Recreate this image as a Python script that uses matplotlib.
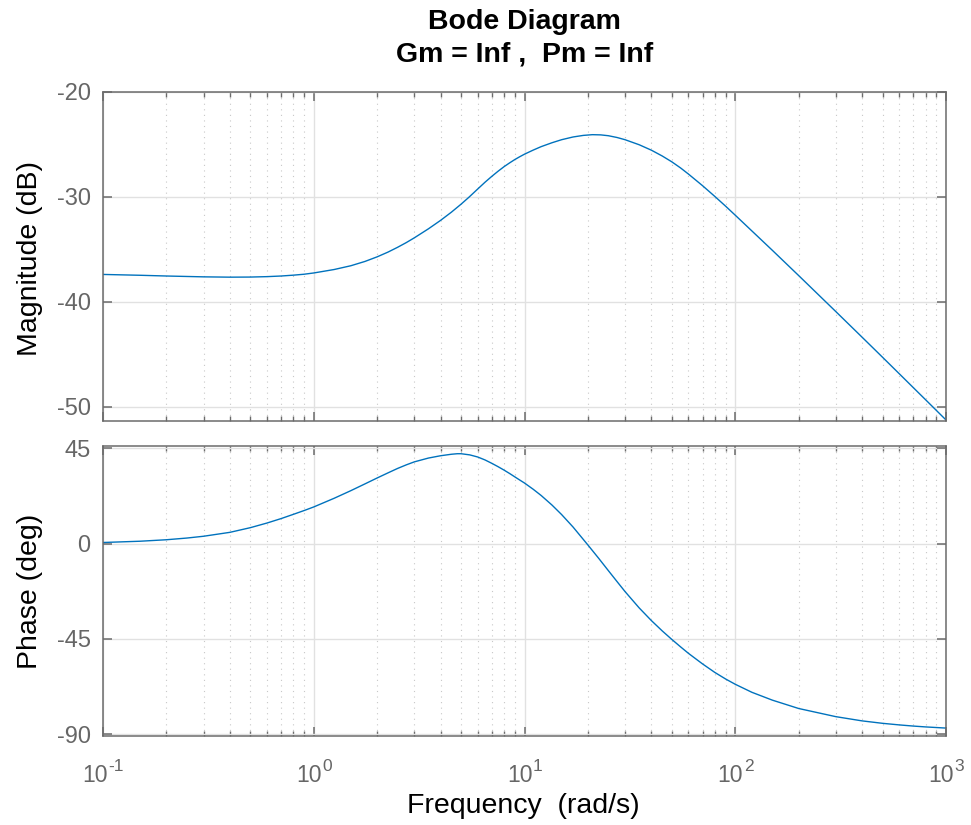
import matplotlib
matplotlib.use("Agg")
import matplotlib.pyplot as plt
from matplotlib.ticker import LogLocator, FixedLocator, NullFormatter

plt.rcParams['font.family'] = ['Liberation Sans', 'DejaVu Sans']
plt.rcParams['axes.unicode_minus'] = False

# ---- data ----
mag_freq = [0.1, 0.15, 0.2, 0.3, 0.4, 0.5, 0.6, 0.7, 0.8, 0.9, 1.0, 1.25, 1.5, 1.75, 2.0,
            2.25, 2.5, 2.75, 3.0, 3.5, 4.0, 4.5, 5.0, 5.44, 6.0, 6.5, 7.0, 7.5, 8.0, 8.5,
            9.0, 9.5, 10, 11, 12, 13.5, 15, 17, 19, 21, 23, 25, 27.5, 30, 35, 40, 45, 50,
            55, 60, 70, 80, 90, 100, 150, 200, 300, 400, 500, 600, 700, 800, 1000]
mag_db = [-37.40, -37.48, -37.55, -37.63, -37.66, -37.65, -37.61, -37.55, -37.47, -37.38,
          -37.26, -36.93, -36.57, -36.16, -35.72, -35.27, -34.81, -34.36, -33.91, -33.05,
          -32.24, -31.46, -30.70, -30.05, -29.25, -28.60, -28.04, -27.55, -27.12, -26.76,
          -26.44, -26.17, -25.93, -25.54, -25.21, -24.84, -24.55, -24.29, -24.14, -24.07,
          -24.09, -24.17, -24.34, -24.55, -25.03, -25.55, -26.10, -26.66, -27.24, -27.83,
          -28.94, -29.96, -30.89, -31.75, -35.10, -37.51, -40.94, -43.39, -45.30, -46.87,
          -48.20, -49.35, -51.28]

ph_freq = [0.1, 0.15, 0.2, 0.25, 0.3, 0.4, 0.5, 0.6, 0.7, 0.8, 0.9, 1.0, 1.25, 1.5, 1.75,
           2.0, 2.25, 2.5, 2.75, 3.0, 3.5, 4.0, 4.5, 4.8, 5.0, 5.5, 6.0, 6.5, 7.0, 7.5, 8.0,
           8.5, 9.0, 9.5, 10, 11, 12, 13.5, 15, 17, 20, 22.5, 25, 27.5, 30, 35, 40, 45, 50,
           55, 60, 70, 80, 90, 100, 120, 150, 200, 300, 400, 500, 600, 700, 800, 1000]
ph_deg = [0.5, 1.1, 1.8, 2.6, 3.45, 5.3, 7.5, 9.7, 11.8, 13.8, 15.6, 17.3, 21.4, 25.0, 28.2,
          31.0, 33.4, 35.5, 37.2, 38.6, 40.4, 41.5, 42.2, 42.45, 42.45, 41.9, 40.9, 39.5,
          37.9, 36.3, 34.7, 33.1, 31.5, 30.0, 28.6, 25.65, 22.7, 18.2, 13.7, 7.8, -0.7,
          -7.0, -12.8, -18.0, -22.7, -30.4, -36.4, -41.25, -45.3, -48.8, -51.9, -56.9,
          -60.9, -64.0, -66.5, -70.3, -74.0, -77.95, -81.8, -83.8, -84.95, -85.7, -86.25,
          -86.65, -87.2]

mag_ticks = [-50, -40, -30, -20]
ph_ticks = [-90, -45, 0, 45]
freq_decades = [-1, 0, 1, 2, 3]
title_lines = ["Bode Diagram", "Gm = Inf ,  Pm = Inf"]

# ---- figure ----
W, H = 971, 825
fig = plt.figure(figsize=(W / 100, H / 100), dpi=100)

def frac_box(l, t, r, b):
    return [l / W, 1 - b / H, (r - l) / W, (b - t) / H]

ax1 = fig.add_axes(frac_box(103, 92, 946, 420.7))
ax2 = fig.add_axes(frac_box(103, 446, 946, 735.7))

line_color = '#0072BD'
frame_color = '#6b6b6b'
tick_label_color = '#666666'

ax1.semilogx(mag_freq, mag_db, color=line_color, lw=1.0)
ax2.semilogx(ph_freq, ph_deg, color=line_color, lw=1.0)

ax1.set_ylim(-51.35, -20)
ax2.set_ylim(-90.8, 46.1)
ax1.yaxis.set_major_locator(FixedLocator(mag_ticks))
ax2.yaxis.set_major_locator(FixedLocator(ph_ticks))

for ax in (ax1, ax2):
    ax.set_xlim(0.1, 1000)
    ax.xaxis.set_major_locator(FixedLocator([10.0 ** k for k in freq_decades]))
    ax.xaxis.set_minor_locator(LogLocator(base=10, subs=range(2, 10), numticks=10))
    ax.xaxis.set_minor_formatter(NullFormatter())
    ax.grid(True, which='major', color='#e1e1e1', lw=1.0, ls='-')
    ax.grid(True, which='minor', axis='x', color='#c8c8c8', lw=0.8, ls=(0, (1, 4)))
    ax.set_axisbelow(True)
    for s in ax.spines.values():
        s.set_color(frame_color)
        s.set_linewidth(1.1)
    ax.tick_params(which='both', direction='in', top=True, right=True,
                   color=frame_color, labelcolor=tick_label_color, labelsize=17)
    ax.tick_params(which='major', length=6.5, width=1.1)
    ax.tick_params(which='minor', length=3.6, width=1.0)
    ax.tick_params(axis='y', pad=9)
    ax.tick_params(axis='x', labelbottom=False)

# x tick labels as "10" with a raised exponent (plain hyphen for negative exponents)
fig.canvas.draw()
renderer = fig.canvas.get_renderer()
for k in freq_decades:
    tb = fig.text(0, 0, "10", fontsize=16.5, color=tick_label_color, ha='left', va='baseline')
    te = fig.text(0, 0, str(k), fontsize=12.5, color=tick_label_color, ha='left', va='baseline')
    wb = tb.get_window_extent(renderer).width
    we = te.get_window_extent(renderer).width
    xt = ax2.transData.transform((10.0 ** k, 0))[0]
    x0 = xt - (wb + we) / 2
    tb.set_position((x0 / W, 1 - 782 / H))
    te.set_position(((x0 + wb + 0.5) / W, 1 - 771 / H))

# labels
fig.text(30 / W, 1 - 258.5 / H, "Magnitude (dB)", rotation=90, ha='center', va='center',
         fontsize=20.5, color='black')
fig.text(30 / W, 1 - 591 / H, "Phase (deg)", rotation=90, ha='center', va='center',
         fontsize=20.5, color='black')
fig.text(523 / W, 1 - 813 / H, "Frequency  (rad/s)", ha='center', va='baseline',
         fontsize=20.5, color='black')

fig.text(524.5 / W, 1 - 29.3 / H, title_lines[0], ha='center', va='baseline',
         fontsize=20.5, fontweight='bold', color='black')
fig.text(524.5 / W, 1 - 61.7 / H, title_lines[1], ha='center', va='baseline',
         fontsize=20.5, fontweight='bold', color='black')

fig.savefig("out.png", dpi=100)
